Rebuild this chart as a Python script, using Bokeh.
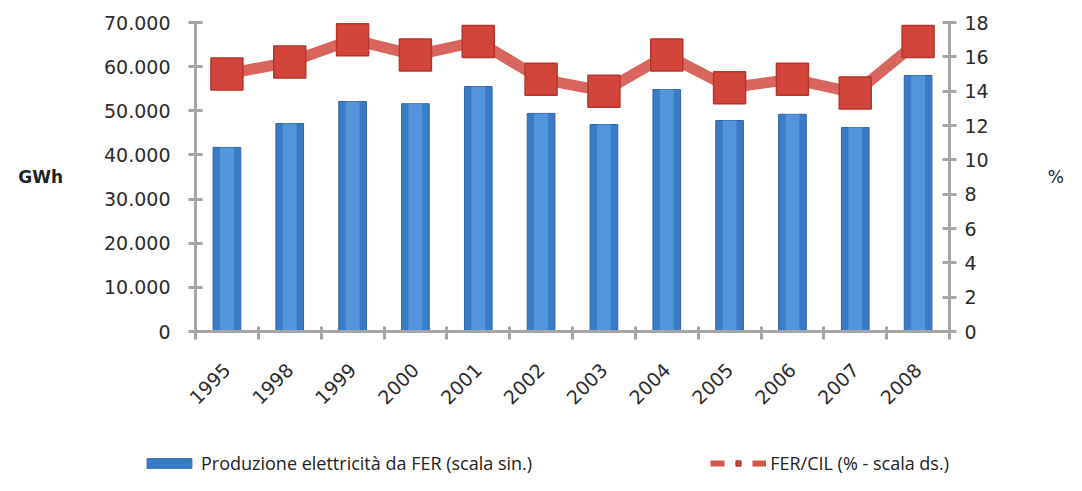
import numpy as np
from bokeh.plotting import figure
from bokeh.layouts import column
from bokeh.models import (Range1d, LinearAxis, FixedTicker, Legend, LegendItem)
from bokeh.embed import file_html
from bokeh.resources import INLINE

years = ["1995", "1998", "1999", "2000", "2001", "2002", "2003", "2004", "2005", "2006", "2007", "2008"]
gwh = [41700, 47100, 52100, 51600, 55500, 49400, 46900, 54800, 47800, 49200, 46200, 58000]
fer_cil = [15.0, 15.7, 17.0, 16.1, 16.9, 14.7, 14.0, 16.1, 14.2, 14.7, 13.9, 16.9]
left_ticks = [0, 10000, 20000, 30000, 40000, 50000, 60000, 70000]
right_ticks = [0, 2, 4, 6, 8, 10, 12, 14, 16, 18]
bar_label = "Produzione elettricità da FER (scala sin.)"
line_label = "FER/CIL (% - scala ds.)"

x = np.arange(len(years)) + 0.5
AX = "#a6a6a6"
TXT = "#2b2b2b"
BAR = dict(fill_color="#3a7bc8", line_color="#2d64a8", line_width=1)
LINE = dict(line_color="#d4554c", line_width=11, line_alpha=0.9)
MARK = dict(marker="square", size=32, fill_color="#d2453b", line_color="#b5352c", line_width=1.5)

p = figure(width=1066, height=432, x_range=Range1d(0, len(years)), y_range=Range1d(0, 70000),
           output_backend="svg", toolbar_location=None,
           min_border_left=195, min_border_right=111, min_border_top=22, min_border_bottom=101,
           x_axis_location=None, y_axis_location=None)
p.outline_line_color = None
p.xgrid.visible = False
p.ygrid.visible = False
p.background_fill_color = "white"
p.border_fill_color = "white"

p.extra_y_ranges = {"pct": Range1d(0, 18)}

# bars with simple shading
p.vbar(x=x, top=gwh, width=0.44, **BAR)
p.vbar(x=x, top=gwh, width=0.22, fill_color="#5b9be0", line_color=None, fill_alpha=0.8)

# line + square markers
p.line(x=x, y=fer_cil, y_range_name="pct", **LINE)
p.scatter(x=x, y=fer_cil, y_range_name="pct", **MARK)

def style_axis(ax, size="19px"):
    ax.axis_line_color = AX
    ax.axis_line_width = 3
    ax.major_tick_line_color = AX
    ax.major_tick_line_width = 3
    ax.minor_tick_line_color = None
    ax.major_label_text_font = "DejaVu Sans"
    ax.major_label_text_font_size = size
    ax.major_label_text_color = TXT

# left axis
ly = LinearAxis(ticker=FixedTicker(ticks=left_ticks))
ly.major_label_overrides = {t: f"{t:,}".replace(",", ".") for t in left_ticks}
style_axis(ly)
ly.major_tick_in = 7
ly.major_tick_out = 7
ly.major_label_standoff = 18
ly.axis_label = "GWh"
ly.axis_label_orientation = "horizontal"
ly.axis_label_text_font = "DejaVu Sans"
ly.axis_label_text_font_style = "bold"
ly.axis_label_text_font_size = "17px"
ly.axis_label_text_color = "#222222"
ly.axis_label_standoff = 38
p.add_layout(ly, "left")

# right axis
ry = LinearAxis(y_range_name="pct", ticker=FixedTicker(ticks=right_ticks))
style_axis(ry)
ry.major_tick_in = 7
ry.major_tick_out = 7
ry.major_label_standoff = 8
ry.axis_label = "%"
ry.axis_label_orientation = "horizontal"
ry.axis_label_text_font = "DejaVu Sans"
ry.axis_label_text_font_style = "normal"
ry.axis_label_text_font_size = "17px"
ry.axis_label_text_color = "#222222"
ry.axis_label_standoff = 56
p.add_layout(ry, "right")

# bottom axis: labels at centers, ticks at boundaries
bx = LinearAxis(ticker=FixedTicker(ticks=list(x), minor_ticks=list(range(len(years) + 1))))
bx.major_label_overrides = {float(xi): y for xi, y in zip(x, years)}
style_axis(bx, "19px")
bx.major_tick_in = 0
bx.major_tick_out = 0
bx.minor_tick_line_color = AX
bx.minor_tick_line_width = 3
bx.minor_tick_in = 5
bx.minor_tick_out = 8
bx.major_label_orientation = np.pi / 4
bx.major_label_standoff = 27
p.add_layout(bx, "below")

# legend strip (separate figure, same data, hidden renderers provide the legend glyphs)
lg = figure(width=1066, height=43, x_range=Range1d(0, len(years)), y_range=Range1d(0, 70000),
            output_backend="svg", toolbar_location=None, min_border=0,
            x_axis_location=None, y_axis_location=None)
lg.frame_align = False
lg.outline_line_color = None
lg.xgrid.visible = False
lg.ygrid.visible = False
lg.extra_y_ranges = {"pct": Range1d(0, 18)}
lb = lg.vbar(x=x, top=gwh, width=0.45, visible=False, **BAR)
ll = lg.line(x=x, y=fer_cil, y_range_name="pct", visible=False,
             line_color="#d4554c", line_width=6, line_dash="14 28")
lm = lg.scatter(x=x, y=fer_cil, y_range_name="pct", visible=False, **MARK)

legend = Legend(items=[
    LegendItem(label=bar_label, renderers=[lb]),
    LegendItem(label=line_label, renderers=[ll, lm]),
], location=(141, 0), orientation="horizontal", spacing=178, padding=5, margin=0,
    glyph_width=56, glyph_height=12, label_standoff=4, click_policy="none",
    label_text_font="Open Sans", label_text_font_size="18px", label_text_color="#222222",
    border_line_color=None, background_fill_alpha=0)
lg.add_layout(legend, "center")

layout = column(p, lg, spacing=0)
open("out.html", "w").write(file_html(layout, INLINE))
